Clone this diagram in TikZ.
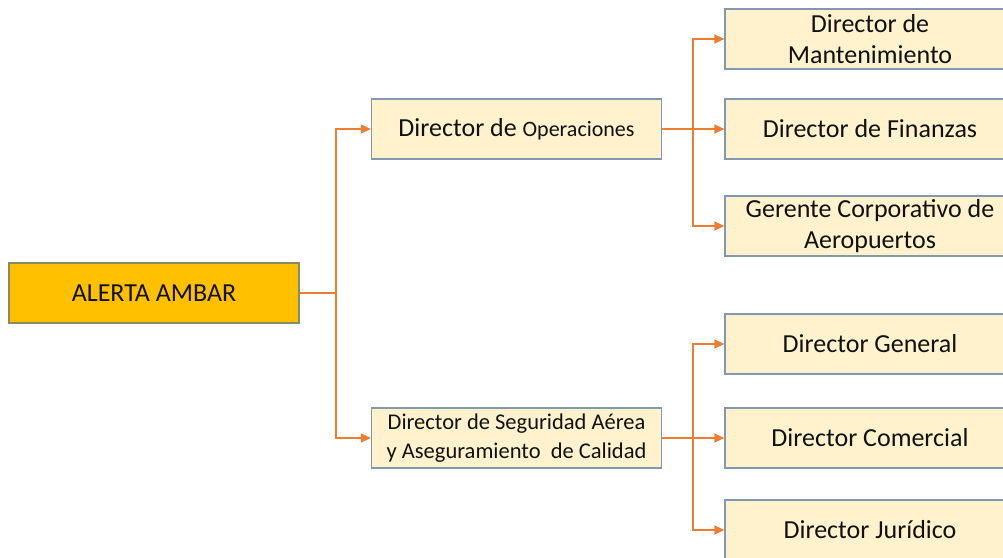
\documentclass[tikz,border=0pt]{standalone}
\usepackage{fontspec}
\setmainfont{Carlito}
\usepackage{xcolor}
\usetikzlibrary{arrows.meta}

\definecolor{ambar}{HTML}{FFC000}
\definecolor{ambarline}{HTML}{8A8A62}
\definecolor{crema}{HTML}{FFF2CC}
\definecolor{cremaline}{HTML}{8497B0}
\definecolor{naranja}{HTML}{ED7D31}
\definecolor{texto}{HTML}{111111}

\tikzset{
	caja/.style={rectangle, draw=cremaline, fill=crema, line width=1.2pt,
		minimum width=290pt, minimum height=60pt, inner sep=2pt, align=center,
		text=texto, font=\fontsize{26}{31}\selectfont},
	alerta/.style={caja, draw=ambarline, fill=ambar},
	enlace/.style={draw=naranja, line width=1.4pt},
	flecha/.style={enlace, -{Triangle[length=10pt,width=9pt]}}
}

\begin{document}
\begin{tikzpicture}[x=1pt,y=-1pt]
	\useasboundingbox (0,0) rectangle (1003,557);
	\clip (0,0) rectangle (1003,557);
	
	\node[alerta] (amb) at (154,293) {ALERTA AMBAR};
	
	\node[caja] (oper) at (516.5,129) {Director de {\fontsize{22}{26}\selectfont Operaciones}};
	\node[caja, font=\fontsize{22.5}{29}\selectfont] (segur) at (516.5,438) {Director\ de\ Seguridad\ Aérea\\y Aseguramiento\ \ de Calidad};
	
	\node[caja] (mant) at (870,39) {Director de\\Mantenimiento};
	\node[caja] (fin) at (870,129) {Director de Finanzas};
	\node[caja] (ger) at (870,226) {Gerente Corporativo de\\Aeropuertos};
	
	\node[caja] (gen) at (870,344) {Director General};
	\node[caja] (com) at (870,438) {Director Comercial};
	\node[caja] (jur) at (870,530) {Director Jurídico};
	
	% primer nivel
	\coordinate (j1) at (336,293);
	\draw[enlace] (amb) -- (j1);
	\foreach \n in {oper,segur}
		\draw[flecha] (j1) |- (\n);
	
	% segundo nivel
	\coordinate (j2) at (693,129);
	\draw[enlace] (oper) -- (j2);
	\foreach \n in {mant,fin,ger}
		\draw[flecha] (j2) |- (\n);
	
	\coordinate (j3) at (693,438);
	\draw[enlace] (segur) -- (j3);
	\foreach \n in {gen,com,jur}
		\draw[flecha] (j3) |- (\n);
\end{tikzpicture}
\end{document}
